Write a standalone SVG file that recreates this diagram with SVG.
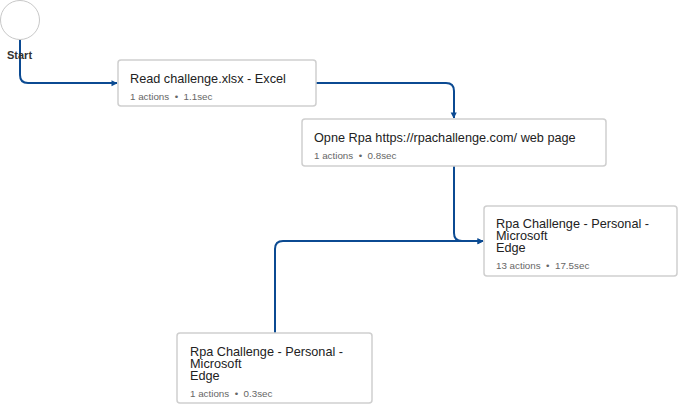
<svg xmlns="http://www.w3.org/2000/svg" width="678" height="404" viewBox="0 0 678 404">
<style>
.node rect{fill:#fff;stroke:#cfcfcf;stroke-width:1.5}
.t{font-family:"Liberation Sans",Arial,sans-serif;font-size:12.7px;fill:#222}
.s{font-family:"Liberation Sans",Arial,sans-serif;font-size:9.8px;fill:#666;white-space:pre}
.lbl{font-family:"Liberation Sans",Arial,sans-serif;font-size:11px;font-weight:bold;fill:#333}
.c path{fill:none;stroke:#0b4a92;stroke-width:2}
</style>
<defs>
<marker id="ah" viewBox="0 0 10 10" refX="10" refY="5" markerWidth="5.5" markerHeight="5.5" markerUnits="userSpaceOnUse" orient="auto" overflow="visible">
<path d="M0,0 L10,5 L0,10 z" fill="#0b4a92" transform="scale(1.1)"/>
</marker>
</defs>
<rect width="678" height="404" fill="#fff"/>
<g class="c">
<path d="M20,40 V75 Q20,83 28,83 H117" marker-end="url(#ah)"/>
<path d="M316,83 H446 Q454,83 454,91 V118" marker-end="url(#ah)"/>
<path d="M454,166 V233 Q454,241 462,241 H483" marker-end="url(#ah)"/>
<path d="M275,333 V249 Q275,241 283,241 H483" marker-end="url(#ah)"/>
</g>
<g id="start">
<circle cx="20" cy="20" r="19.5" fill="#fff" stroke="#c8c8c8" stroke-width="1"/>
<text class="lbl" x="7" y="59">Start</text>
</g>
<g id="n1" class="node">
<rect x="118" y="60" width="198" height="46" rx="3"/>
<text class="t" x="130" y="83">Read challenge.xlsx - Excel</text>
<text class="s" x="130" y="100" xml:space="preserve">1 actions  •  1.1sec</text>
</g>
<g id="n2" class="node">
<rect x="302" y="119" width="304" height="47" rx="3"/>
<text class="t" x="314" y="142">Opne Rpa https://rpachallenge.com/ web page</text>
<text class="s" x="314" y="159" xml:space="preserve">1 actions  •  0.8sec</text>
</g>
<g id="n3" class="node">
<rect x="484" y="206" width="193" height="70" rx="3"/>
<text class="t" x="496" y="228">Rpa Challenge - Personal -</text>
<text class="t" x="496" y="240">Microsoft</text>
<text class="t" x="496" y="252">Edge</text>
<text class="s" x="496" y="269" xml:space="preserve">13 actions  •  17.5sec</text>
</g>
<g id="n4" class="node">
<rect x="177" y="333" width="195" height="70" rx="3"/>
<text class="t" x="190" y="356">Rpa Challenge - Personal -</text>
<text class="t" x="190" y="368">Microsoft</text>
<text class="t" x="190" y="380">Edge</text>
<text class="s" x="190" y="397" xml:space="preserve">1 actions  •  0.3sec</text>
</g>
</svg>
